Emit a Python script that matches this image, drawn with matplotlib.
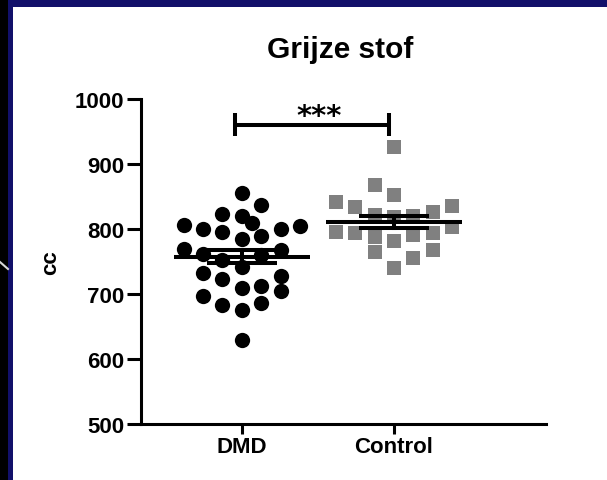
import numpy as np
import matplotlib.pyplot as plt
from matplotlib.patches import Rectangle
from matplotlib.lines import Line2D

plt.rcParams['font.family'] = ['Liberation Sans', 'DejaVu Sans']

groups = ['DMD', 'Control']
yticks = [500, 600, 700, 800, 900, 1000]

# grey matter volume (cc) and scatter column of each subject
dmd_cc = [855, 837, 823, 820, 809, 806, 800, 796, 800, 805,
          790, 785, 770, 767, 762, 760, 753, 741, 732, 727,
          723, 710, 713, 705, 697, 683, 676, 686, 630]
dmd_col = [0, 1, -1, 0, 0.5, -3, -2, -1, 2, 3,
           1, 0, -3, 2, -2, 1, -1, 0, -2, 2,
           -1, 0, 1, 2, -2, -1, 0, 1, 0]
control_cc = [926, 867, 853, 842, 834, 836, 822, 818, 820, 826,
              796, 794, 803, 787, 791, 794, 782, 764, 755, 767, 740]
control_col = [0, -1, 0, -3, -2, 3, -1, 0, 1, 2,
               -3, -2, 3, -1, 1, 2, 0, -1, 1, 2, 0]

navy = '#12106a'
grey = '#808080'

fig = plt.figure(figsize=(6.07, 4.81), dpi=100, facecolor=navy)
fig.add_artist(Rectangle((0, 0), 8 / 607, 1, transform=fig.transFigure,
                         facecolor='black', edgecolor='none', zorder=-2))
fig.add_artist(Rectangle((13 / 607, 0), 1, 1 - 7.5 / 481, transform=fig.transFigure,
                         facecolor='white', edgecolor='none', zorder=-2))
fig.add_artist(Line2D([0, 8 / 607], [1 - 263 / 481, 1 - 270 / 481],
                      transform=fig.transFigure, color='#d8d8d8', lw=1.5, zorder=-1))

ax = fig.add_axes([141 / 607, 56 / 481, 405 / 607, 325 / 481])
ax.set_facecolor('none')

step = 0.128
x1 = 1 + step * np.array(dmd_col)
x2 = 2 + step * np.array(control_col)
ax.plot(x1, dmd_cc, 'o', color='black', ms=11, mew=0, zorder=2, clip_on=False)
ax.plot(x2, control_cc, 's', color=grey, ms=10, mew=0, zorder=2, clip_on=False)

# mean with SEM
lw = 2.9
for x, vals in [(1, dmd_cc), (2, control_cc)]:
    v = np.array(vals, dtype=float)
    m = v.mean()
    sem = v.std(ddof=1) / np.sqrt(len(v))
    ax.plot([x - 0.45, x + 0.45], [m, m], color='black', lw=lw, solid_capstyle='butt', zorder=3)
    ax.plot([x - 0.23, x + 0.23], [m + sem, m + sem], color='black', lw=lw, solid_capstyle='butt', zorder=3)
    ax.plot([x - 0.23, x + 0.23], [m - sem, m - sem], color='black', lw=lw, solid_capstyle='butt', zorder=3)
    ax.plot([x, x], [m - sem, m + sem], color='black', lw=lw, zorder=3)

# significance bracket
bl, br = 0.954, 1.967
ax.plot([bl, br], [960, 960], color='black', lw=2.9, solid_capstyle='butt', clip_on=False)
ax.plot([bl, bl], [943, 978], color='black', lw=2.9, solid_capstyle='butt', clip_on=False)
ax.plot([br, br], [943, 978], color='black', lw=2.9, solid_capstyle='butt', clip_on=False)
ax.text((bl + br) / 2 + 0.05, 962, '***', ha='center', va='baseline', fontsize=21,
        family='DejaVu Sans', fontweight='bold')

ax.set_xlim(0.336, 3.0)
ax.set_ylim(500, 1000)
ax.set_xticks([1, 2])
ax.set_xticklabels(groups, fontsize=16, fontweight='bold')
ax.set_yticks(yticks)
ax.set_yticklabels([str(t) for t in yticks], fontsize=16, fontweight='bold')

for s in ['top', 'right']:
    ax.spines[s].set_visible(False)
for s in ['left', 'bottom']:
    ax.spines[s].set_linewidth(2.2)
ax.tick_params(axis='y', length=10, width=2.2, pad=2)
ax.tick_params(axis='x', length=7, width=2.2, pad=2)

ax.set_ylabel('cc', fontsize=16, fontweight='bold')
ax.yaxis.set_label_coords(-0.198, 0.5)

fig.text(340 / 607, 1 - 58.5 / 481, 'Grijze stof', ha='center', va='baseline',
         fontsize=21.5, fontweight='bold')

fig.savefig('out.png', dpi=100, facecolor=navy)
